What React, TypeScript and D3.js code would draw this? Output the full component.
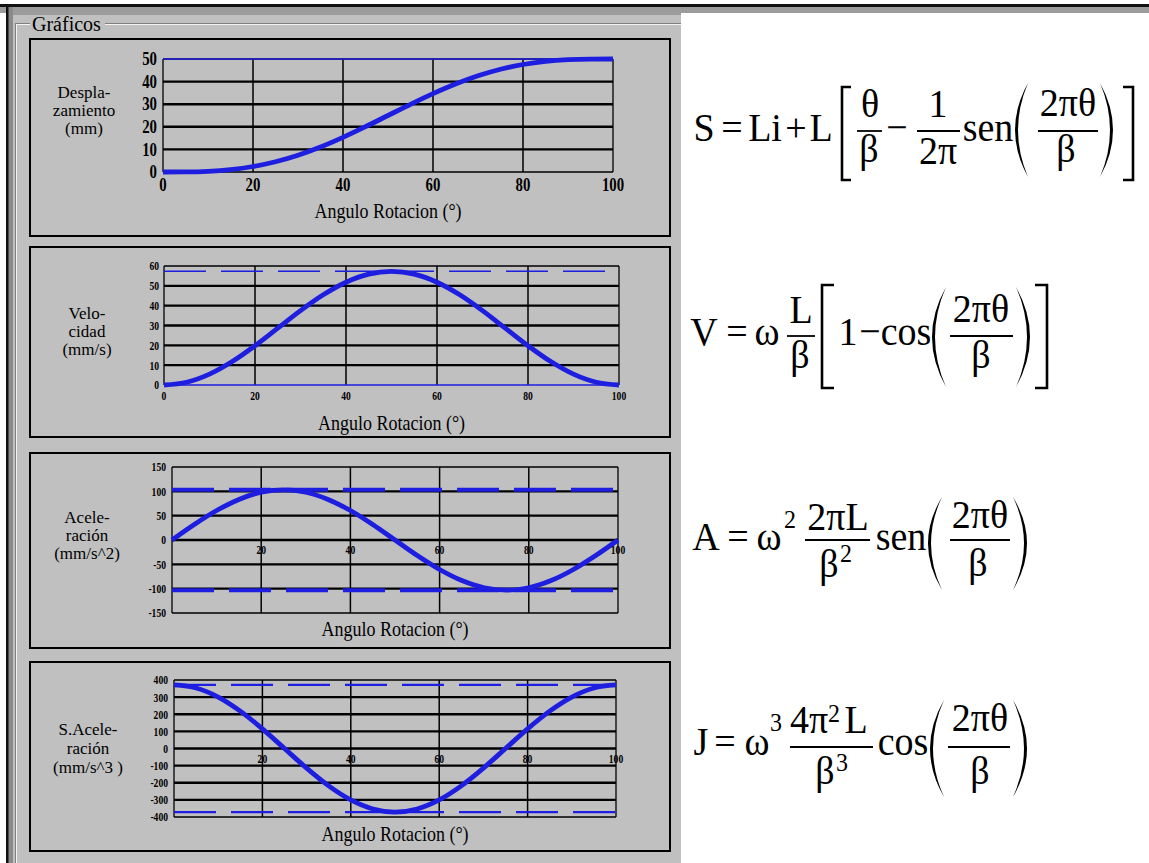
import React from 'react';
import * as d3 from 'd3';

// Cam follower kinematics sampled every 5 degrees of rotation
const angles = [0, 5, 10, 15, 20, 25, 30, 35, 40, 45, 50, 55, 60, 65, 70, 75, 80, 85, 90, 95, 100];
const displacement = [0, 0.04, 0.32, 1.06, 2.43, 4.54, 7.43, 11.06, 15.32, 20.04, 25, 29.96, 34.68, 38.94, 42.57, 45.46, 47.57, 48.94, 49.68, 49.96, 50];
const velocity = [0, 1.4, 5.47, 11.81, 19.8, 28.65, 37.5, 45.49, 51.83, 55.9, 57.3, 55.9, 51.83, 45.49, 37.5, 28.65, 19.8, 11.81, 5.47, 1.4, 0];
const acceleration = [0, 31.9, 60.6, 83.4, 98.1, 103.1, 98.1, 83.4, 60.6, 31.9, 0, -31.9, -60.6, -83.4, -98.1, -103.1, -98.1, -83.4, -60.6, -31.9, 0];
const jerk = [371.3, 353.1, 300.4, 218.2, 114.7, 0, -114.7, -218.2, -300.4, -353.1, -371.3, -353.1, -300.4, -218.2, -114.7, 0, 114.7, 218.2, 300.4, 353.1, 371.3];

const angleTicks = [0, 20, 40, 60, 80, 100];
const displacementTicks = [0, 10, 20, 30, 40, 50];
const velocityTicks = [0, 10, 20, 30, 40, 50, 60];
const accelerationTicks = [-150, -100, -50, 0, 50, 100, 150];
const jerkTicks = [-400, -300, -200, -100, 0, 100, 200, 300, 400];

const displacementLimits = [50];
const velocityLimits = [57.3];
const accelerationLimits = [103.1, -103.1];
const jerkLimits = [371.3, -371.3];

const SERIF = '"Liberation Serif", "Times New Roman", serif';
const BLUE = '#1e1ee0';
const PANEL = '#c0c0c0';

type PanelCfg = {
  frame: [number, number, number, number];
  px: [number, number];
  py: [number, number];
  domain: [number, number];
  ticks: number[];
  values: number[];
  limits: number[];
  limitStyle: 'solid' | 'dash';
  limitWidth: number;
  blueBottom?: boolean;
  tickSize: number;
  tickScale: number;
  yTickX: number;
  xLabelMode: 'bottom' | 'zero';
  xLabelY: number;
  title: string[];
  titleX: number;
  titleY: number;
  titleGap: number;
  axisTitleY: number;
};

function Panel({ c }: { c: PanelCfg }) {
  const x = d3.scaleLinear().domain([0, 100]).range(c.px);
  const y = d3.scaleLinear().domain(c.domain).range([c.py[1], c.py[0]]);
  const line = d3
    .line<number>()
    .x((_, i) => x(angles[i]))
    .y((d) => y(d))
    .curve(d3.curveMonotoneX);
  const [fx0, fy0, fx1, fy1] = c.frame;
  const inner = c.ticks.slice(1, -1);
  const innerX = angleTicks.slice(1, -1);
  const xLabels = c.xLabelMode === 'zero' ? angleTicks.slice(1) : angleTicks;
  const xLabelBase = c.xLabelMode === 'zero' ? y(0) + 10 : c.xLabelY;
  return (
    <g>
      <rect x={fx0} y={fy0} width={fx1 - fx0} height={fy1 - fy0} fill={PANEL} stroke="#000" strokeWidth={2} />
      {/* grid */}
      {inner.map((t) => (
        <line key={'h' + t} x1={c.px[0]} x2={c.px[1]} y1={y(t)} y2={y(t)} stroke="#000" strokeWidth={2.4} />
      ))}
      {innerX.map((t) => (
        <line key={'v' + t} x1={x(t)} x2={x(t)} y1={c.py[0]} y2={c.py[1]} stroke="#000" strokeWidth={1.5} />
      ))}
      {/* plot border */}
      <line x1={c.px[0]} x2={c.px[0]} y1={c.py[0]} y2={c.py[1]} stroke="#000" strokeWidth={1.3} />
      <line x1={c.px[1]} x2={c.px[1]} y1={c.py[0]} y2={c.py[1]} stroke="#000" strokeWidth={1.3} />
      <line x1={c.px[0]} x2={c.px[1]} y1={c.py[0]} y2={c.py[0]} stroke="#000" strokeWidth={1.3} />
      <line
        x1={c.px[0]}
        x2={c.px[1]}
        y1={c.py[1]}
        y2={c.py[1]}
        stroke={c.blueBottom ? BLUE : '#000'}
        strokeWidth={1.3}
      />
      {/* reference limits */}
      {c.limits.map((v, i) => (
        <line
          key={'l' + i}
          x1={c.px[0]}
          x2={c.px[1]}
          y1={y(v)}
          y2={y(v)}
          stroke={BLUE}
          strokeWidth={c.limitWidth}
          strokeDasharray={c.limitStyle === 'dash' ? '42,15' : undefined}
        />
      ))}
      {/* curve */}
      <path d={line(c.values) || ''} fill="none" stroke={BLUE} strokeWidth={4.8} strokeLinejoin="round" />
      {/* y tick labels */}
      {c.ticks.map((t) => (
        <text
          key={'yt' + t}
          transform={`translate(${c.yTickX},${y(t)}) scale(${c.tickScale},1)`}
          textAnchor="end"
          dominantBaseline="central"
          fontFamily={SERIF}
          fontWeight="bold"
          fontSize={c.tickSize}
          fill="#000"
        >
          {t}
        </text>
      ))}
      {/* x tick labels */}
      {xLabels.map((t) => (
        <text
          key={'xt' + t}
          transform={`translate(${x(t)},${xLabelBase}) scale(${c.tickScale},1)`}
          textAnchor="middle"
          dominantBaseline="central"
          fontFamily={SERIF}
          fontWeight="bold"
          fontSize={c.tickSize}
          fill="#000"
        >
          {t}
        </text>
      ))}
      {/* y title */}
      {c.title.map((s, i) => (
        <text
          key={'tt' + i}
          x={c.titleX}
          y={c.titleY + i * c.titleGap}
          textAnchor="middle"
          dominantBaseline="central"
          fontFamily={SERIF}
          fontSize={17}
          fill="#000"
        >
          {s}
        </text>
      ))}
      <text
        transform={`translate(${(c.px[0] + c.px[1]) / 2},${c.axisTitleY}) scale(1,1.12)`}
        textAnchor="middle"
        dominantBaseline="central"
        fontFamily={SERIF}
        fontSize={18}
        fill="#000"
      >
        Angulo Rotacion (°)
      </text>
    </g>
  );
}

const panels: PanelCfg[] = [
  {
    frame: [30, 39, 670, 236],
    px: [163, 613],
    py: [59, 172],
    domain: [0, 50],
    ticks: displacementTicks,
    values: displacement,
    limits: displacementLimits,
    limitStyle: 'solid',
    limitWidth: 1.5,
    tickSize: 19,
    tickScale: 0.78,
    yTickX: 157,
    xLabelMode: 'bottom',
    xLabelY: 185,
    title: ['Despla-', 'zamiento', '(mm)'],
    titleX: 84,
    titleY: 92,
    titleGap: 18,
    axisTitleY: 211,
  },
  {
    frame: [30, 247, 670, 437],
    px: [164, 619],
    py: [266, 385],
    domain: [0, 60],
    ticks: velocityTicks,
    values: velocity,
    limits: velocityLimits,
    limitStyle: 'dash',
    limitWidth: 1.5,
    blueBottom: true,
    tickSize: 12,
    tickScale: 0.8,
    yTickX: 159,
    xLabelMode: 'bottom',
    xLabelY: 396,
    title: ['Velo-', 'cidad', '(mm/s)'],
    titleX: 87,
    titleY: 313,
    titleGap: 18,
    axisTitleY: 423,
  },
  {
    frame: [30, 453, 670, 648],
    px: [172, 618],
    py: [467, 613],
    domain: [-150, 150],
    ticks: accelerationTicks,
    values: acceleration,
    limits: accelerationLimits,
    limitStyle: 'dash',
    limitWidth: 4,
    tickSize: 12,
    tickScale: 0.8,
    yTickX: 166,
    xLabelMode: 'zero',
    xLabelY: 553,
    title: ['Acele-', 'ración', '(mm/s^2)'],
    titleX: 87,
    titleY: 517,
    titleGap: 18,
    axisTitleY: 629,
  },
  {
    frame: [30, 662, 670, 851],
    px: [174, 616],
    py: [680, 817],
    domain: [-400, 400],
    ticks: jerkTicks,
    values: jerk,
    limits: jerkLimits,
    limitStyle: 'dash',
    limitWidth: 2.2,
    tickSize: 12,
    tickScale: 0.8,
    yTickX: 168,
    xLabelMode: 'zero',
    xLabelY: 758,
    title: ['S.Acele-', 'ración', '(mm/s^3 )'],
    titleX: 88,
    titleY: 729,
    titleGap: 19,
    axisTitleY: 834,
  },
];

// Formula typesetting pieces
type Piece =
  | { k: 't'; t: string; x: number; y: number; s?: number }
  | { k: 'bar'; x0: number; x1: number; y: number }
  | { k: 'paren'; side: 'l' | 'r'; x0: number; x1: number; yt: number; yb: number }
  | { k: 'brack'; side: 'l' | 'r'; x0: number; x1: number; yt: number; yb: number };

const formulaS: Piece[] = [
  { k: 't', t: 'S', x: 704, y: 141 },
  { k: 't', t: '=', x: 732, y: 141 },
  { k: 't', t: 'Li', x: 765, y: 141 },
  { k: 't', t: '+', x: 796, y: 141 },
  { k: 't', t: 'L', x: 821, y: 141 },
  { k: 'brack', side: 'l', x0: 842, x1: 851, yt: 87, yb: 180 },
  { k: 't', t: 'θ', x: 870, y: 117 },
  { k: 'bar', x0: 857, x1: 882, y: 131 },
  { k: 't', t: 'β', x: 869, y: 162 },
  { k: 't', t: '−', x: 897, y: 141 },
  { k: 't', t: '1', x: 938, y: 117 },
  { k: 'bar', x0: 917, x1: 960, y: 131 },
  { k: 't', t: '2π', x: 938, y: 164 },
  { k: 't', t: 'sen', x: 988, y: 141 },
  { k: 'paren', side: 'l', x0: 1015, x1: 1028, yt: 83, yb: 177 },
  { k: 't', t: '2πθ', x: 1068, y: 116 },
  { k: 'bar', x0: 1038, x1: 1098, y: 131 },
  { k: 't', t: 'β', x: 1066, y: 162 },
  { k: 'paren', side: 'r', x0: 1100, x1: 1113, yt: 83, yb: 177 },
  { k: 'brack', side: 'r', x0: 1123, x1: 1133, yt: 87, yb: 180 },
];

const formulaV: Piece[] = [
  { k: 't', t: 'V', x: 704, y: 345 },
  { k: 't', t: '=', x: 737, y: 345 },
  { k: 't', t: 'ω', x: 767, y: 345 },
  { k: 't', t: 'L', x: 801, y: 323 },
  { k: 'bar', x0: 787, x1: 815, y: 336 },
  { k: 't', t: 'β', x: 800, y: 368 },
  { k: 'brack', side: 'l', x0: 822, x1: 834, yt: 285, yb: 388 },
  { k: 't', t: '1', x: 848, y: 345 },
  { k: 't', t: '−', x: 870, y: 345 },
  { k: 't', t: 'cos', x: 906, y: 345 },
  { k: 'paren', side: 'l', x0: 932, x1: 946, yt: 287, yb: 387 },
  { k: 't', t: '2πθ', x: 981, y: 322 },
  { k: 'bar', x0: 950, x1: 1013, y: 336 },
  { k: 't', t: 'β', x: 981, y: 368 },
  { k: 'paren', side: 'r', x0: 1016, x1: 1030, yt: 287, yb: 387 },
  { k: 'brack', side: 'r', x0: 1035, x1: 1047, yt: 285, yb: 388 },
];

const formulaA: Piece[] = [
  { k: 't', t: 'A', x: 706, y: 550 },
  { k: 't', t: '=', x: 738, y: 550 },
  { k: 't', t: 'ω', x: 769, y: 550 },
  { k: 't', t: '2', x: 790, y: 528, s: 24 },
  { k: 't', t: '2πL', x: 838, y: 530 },
  { k: 'bar', x0: 805, x1: 870, y: 540 },
  { k: 't', t: 'β', x: 829, y: 577 },
  { k: 't', t: '2', x: 846, y: 562, s: 24 },
  { k: 't', t: 'sen', x: 901, y: 550 },
  { k: 'paren', side: 'l', x0: 928, x1: 942, yt: 497, yb: 590 },
  { k: 't', t: '2πθ', x: 980, y: 528 },
  { k: 'bar', x0: 950, x1: 1010, y: 540 },
  { k: 't', t: 'β', x: 978, y: 576 },
  { k: 'paren', side: 'r', x0: 1013, x1: 1027, yt: 497, yb: 590 },
];

const formulaJ: Piece[] = [
  { k: 't', t: 'J', x: 701, y: 755 },
  { k: 't', t: '=', x: 725, y: 755 },
  { k: 't', t: 'ω', x: 757, y: 755 },
  { k: 't', t: '3', x: 776, y: 731, s: 24 },
  { k: 't', t: '4π', x: 809, y: 733 },
  { k: 't', t: '2', x: 834, y: 722, s: 24 },
  { k: 't', t: 'L', x: 856, y: 733 },
  { k: 'bar', x0: 790, x1: 873, y: 747 },
  { k: 't', t: 'β', x: 825, y: 784 },
  { k: 't', t: '3', x: 842, y: 771, s: 24 },
  { k: 't', t: 'cos', x: 903, y: 755 },
  { k: 'paren', side: 'l', x0: 930, x1: 944, yt: 700, yb: 797 },
  { k: 't', t: '2πθ', x: 980, y: 731 },
  { k: 'bar', x0: 948, x1: 1010, y: 747 },
  { k: 't', t: 'β', x: 980, y: 784 },
  { k: 'paren', side: 'r', x0: 1013, x1: 1027, yt: 700, yb: 797 },
];

function Formula({ pieces }: { pieces: Piece[] }) {
  return (
    <g>
      {pieces.map((p, i) => {
        if (p.k === 't') {
          return (
            <text
              key={i}
              transform={`translate(${p.x},${p.y}) scale(1,1.08)`}
              textAnchor="middle"
              fontFamily={SERIF}
              fontSize={p.s || 38}
              fill="#000"
            >
              {p.t}
            </text>
          );
        }
        if (p.k === 'bar') {
          return <line key={i} x1={p.x0} x2={p.x1} y1={p.y} y2={p.y} stroke="#000" strokeWidth={1.8} />;
        }
        const ym = (p.yt + p.yb) / 2;
        if (p.k === 'paren') {
          if (p.side === 'l') {
            const co = 2 * p.x0 - p.x1;
            const ci = 2 * (p.x0 + 3) - p.x1;
            return (
              <path
                key={i}
                d={`M${p.x1},${p.yt} Q${co},${ym} ${p.x1},${p.yb} Q${ci},${ym} ${p.x1},${p.yt} Z`}
                fill="#000"
              />
            );
          }
          const co = 2 * p.x1 - p.x0;
          const ci = 2 * (p.x1 - 3) - p.x0;
          return (
            <path
              key={i}
              d={`M${p.x0},${p.yt} Q${co},${ym} ${p.x0},${p.yb} Q${ci},${ym} ${p.x0},${p.yt} Z`}
              fill="#000"
            />
          );
        }
        const d =
          p.side === 'l'
            ? `M${p.x1},${p.yt} H${p.x0} V${p.yb} H${p.x1}`
            : `M${p.x0},${p.yt} H${p.x1} V${p.yb} H${p.x0}`;
        return <path key={i} d={d} fill="none" stroke="#000" strokeWidth={2.6} />;
      })}
    </g>
  );
}

export default function App() {
  return (
    <div style={{ position: 'absolute', left: 0, top: 0 }}>
      <svg width={1149} height={863} style={{ display: 'block', background: '#fff' }}>
        {/* window chrome */}
        <rect x={0} y={0} width={1149} height={863} fill="#fff" />
        <rect x={8} y={7} width={673} height={856} fill={PANEL} />
        <rect x={0} y={7} width={1149} height={6} fill="#9c9c9c" />
        <rect x={8} y={13} width={673} height={2} fill="#9c9c9c" />
        <rect x={8} y={7} width={5} height={856} fill="#8a8a8a" />
        <rect x={0} y={4} width={1149} height={3} fill="#111" />
        <rect x={6} y={4} width={2.5} height={859} fill="#111" />
        {/* group box */}
        <line x1={15.5} x2={15.5} y1={24} y2={863} stroke="#808080" />
        <line x1={16.5} x2={16.5} y1={25} y2={863} stroke="#f4f4f4" />
        <line x1={15} x2={30} y1={23.5} y2={23.5} stroke="#808080" />
        <line x1={16} x2={30} y1={24.5} y2={24.5} stroke="#f4f4f4" />
        <line x1={105} x2={681} y1={23.5} y2={23.5} stroke="#808080" />
        <line x1={105} x2={681} y1={24.5} y2={24.5} stroke="#f4f4f4" />
        <text x={32} y={24} dominantBaseline="central" fontFamily={SERIF} fontSize={20} fill="#000">
          Gráficos
        </text>
        {panels.map((c, i) => (
          <Panel key={i} c={c} />
        ))}
        <Formula pieces={formulaS} />
        <Formula pieces={formulaV} />
        <Formula pieces={formulaA} />
        <Formula pieces={formulaJ} />
      </svg>
    </div>
  );
}
